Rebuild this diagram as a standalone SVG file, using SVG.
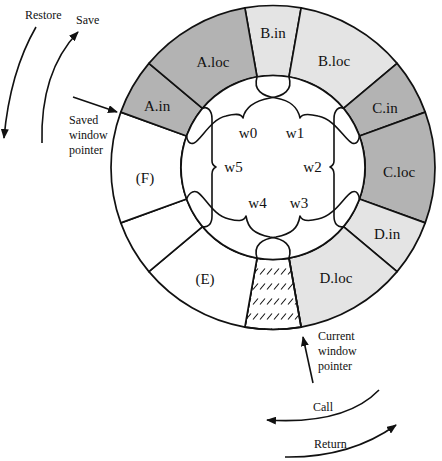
<svg xmlns="http://www.w3.org/2000/svg" width="442" height="461" viewBox="0 0 442 461">
<style>
.seg{stroke:#111;stroke-width:1.7;stroke-linejoin:round}
.lt{fill:#e4e4e4}
.dk{fill:#b3b3b3}
.wh{fill:#fff}
.lbl{font-family:"Liberation Serif","Times New Roman",serif;font-size:15px;fill:#111;text-anchor:middle}
.note{font-family:"Liberation Serif","Times New Roman",serif;font-size:12px;fill:#111}
.brace{fill:none;stroke:#111;stroke-width:1.6;stroke-linejoin:round}
.arr{fill:none;stroke:#111;stroke-width:1.6;marker-end:url(#ah)}
</style>
<defs>
<marker id="ah" markerWidth="10" markerHeight="8" refX="9" refY="4" orient="auto" markerUnits="userSpaceOnUse">
<path d="M0,0 L10,4 L0,8 Z" fill="#111"/>
</marker>
<pattern id="hatch" patternUnits="userSpaceOnUse" x="0" y="264" width="7" height="15">
<line x1="1" y1="10.5" x2="6" y2="4.5" stroke="#111" stroke-width="1.1"/>
</pattern>
</defs>
<rect width="442" height="461" fill="#fff"/>

<g id="ring">
<g id="seg-Bin"><path class="seg lt" d="M244.87,7.96 A162,162 0 0 1 301.13,7.96 L288.98,76.9 A92,92 0 0 0 257.02,76.9 Z"/><text class="lbl" x="273" y="38">B.in</text></g>
<g id="seg-Bloc"><path class="seg lt" d="M301.13,7.96 A162,162 0 0 1 397.1,63.37 L343.48,108.36 A92,92 0 0 0 288.98,76.9 Z"/><text class="lbl" x="334" y="66">B.loc</text></g>
<g id="seg-Cin"><path class="seg dk" d="M397.1,63.37 A162,162 0 0 1 425.23,112.09 L359.45,136.03 A92,92 0 0 0 343.48,108.36 Z"/><text class="lbl" x="385" y="113">C.in</text></g>
<g id="seg-Cloc"><path class="seg dk" d="M425.23,112.09 A162,162 0 0 1 425.23,222.91 L359.45,198.97 A92,92 0 0 0 359.45,136.03 Z"/><text class="lbl" x="399" y="177">C.loc</text></g>
<g id="seg-Din"><path class="seg lt" d="M425.23,222.91 A162,162 0 0 1 397.1,271.63 L343.48,226.64 A92,92 0 0 0 359.45,198.97 Z"/><text class="lbl" x="387" y="239">D.in</text></g>
<g id="seg-Dloc"><path class="seg lt" d="M397.1,271.63 A162,162 0 0 1 301.13,327.04 L288.98,258.1 A92,92 0 0 0 343.48,226.64 Z"/><text class="lbl" x="336" y="283">D.loc</text></g>
<g id="seg-hatched"><path class="seg wh" d="M301.13,327.04 A162,162 0 0 1 244.87,327.04 L257.02,258.1 A92,92 0 0 0 288.98,258.1 Z"/><path d="M301.13,327.04 A162,162 0 0 1 244.87,327.04 L257.02,258.1 A92,92 0 0 0 288.98,258.1 Z" fill="url(#hatch)" stroke="#111" stroke-width="1.7"/></g>
<g id="seg-E"><path class="seg wh" d="M244.87,327.04 A162,162 0 0 1 148.9,271.63 L202.52,226.64 A92,92 0 0 0 257.02,258.1 Z"/><text class="lbl" x="205" y="284">(E)</text></g>
<g id="seg-blank"><path class="seg wh" d="M148.9,271.63 A162,162 0 0 1 120.77,222.91 L186.55,198.97 A92,92 0 0 0 202.52,226.64 Z"/></g>
<g id="seg-F"><path class="seg wh" d="M120.77,222.91 A162,162 0 0 1 120.77,112.09 L186.55,136.03 A92,92 0 0 0 186.55,198.97 Z"/><text class="lbl" x="145" y="183">(F)</text></g>
<g id="seg-Ain"><path class="seg dk" d="M120.77,112.09 A162,162 0 0 1 148.9,63.37 L202.52,108.36 A92,92 0 0 0 186.55,136.03 Z"/><text class="lbl" x="157" y="111">A.in</text></g>
<g id="seg-Aloc"><path class="seg dk" d="M148.9,63.37 A162,162 0 0 1 244.87,7.96 L257.02,76.9 A92,92 0 0 0 202.52,108.36 Z"/><text class="lbl" x="213" y="67">A.loc</text></g>
<circle cx="273" cy="167.5" r="92" fill="#fff" stroke="#111" stroke-width="1.7"/>
</g>

<g id="windows">
<g id="w0"><text class="lbl" x="248" y="138">w0</text></g>
<g id="w1"><text class="lbl" x="295" y="138">w1</text></g>
<g id="w2"><text class="lbl" x="312.5" y="171.5">w2</text></g>
<g id="w3"><text class="lbl" x="299" y="208">w3</text></g>
<g id="w4"><text class="lbl" x="257.5" y="208">w4</text></g>
<g id="w5"><text class="lbl" x="233.5" y="171.5">w5</text></g>
</g>

<g id="notes">
<text class="note" x="25" y="19">Restore</text>
<text class="note" x="76" y="24">Save</text>
<text class="note" x="69" y="124">Saved</text>
<text class="note" x="69" y="139">window</text>
<text class="note" x="69" y="154">pointer</text>
<text class="note" x="318" y="340">Current</text>
<text class="note" x="318" y="355">window</text>
<text class="note" x="318" y="370">pointer</text>
<text class="note" x="313" y="411">Call</text>
<text class="note" x="314" y="448">Return</text>
</g>

<g id="connectors">
<path class="brace" d="M288.98,76.9 C293,90 284,96 270,98 C254,101 245,108 243,118 C241,113 234,114 226,116 C211,119 201,140 194,143 C189,145 187,140 186.55,136.03"/>
<path class="brace" d="M257.02,76.9 C253,90 262,96 276,98 C292,101 298,108 300,118 C302,113 310,114 318,116 C335,119 345,140 352,143 C357,145 359,140 359.45,136.03"/>
<path class="brace" d="M343.48,108.36 C339,106 334,110 334,119 L334,161 C334,164 332,166 330,167 C332,168 334,170 334,174 L334,216 C334,224 338,228 343.48,226.64"/>
<path class="brace" d="M202.52,108.36 C207,106 212,110 212,119 L212,161 C212,164 214,166 216,167 C214,168 212,170 212,174 L212,216 C212,224 208,228 202.52,226.64"/>
<path class="brace" d="M288.98,258.1 C293,245 284,239 270,237 C254,234 248,228 246,216 C244,222 237,221 229,219 C213,216 204,195 197,192 C192,190 188,195 186.55,198.97"/>
<path class="brace" d="M257.02,258.1 C253,245 262,239 276,237 C292,234 298,228 300,216 C302,222 310,221 318,219 C335,216 345,195 352,192 C357,190 359,195 359.45,198.97"/>
<path class="arr" d="M36,27 Q10,72 4,138"/>
<path class="arr" d="M42,143 Q40,72 78,32"/>
<path class="arr" d="M73,97 L117,112"/>
<path class="arr" d="M313,383 L303,337"/>
<path class="arr" d="M379,390 Q345,425 267,420"/>
<path class="arr" d="M285,457 Q350,458 396,425"/>
</g>
</svg>
